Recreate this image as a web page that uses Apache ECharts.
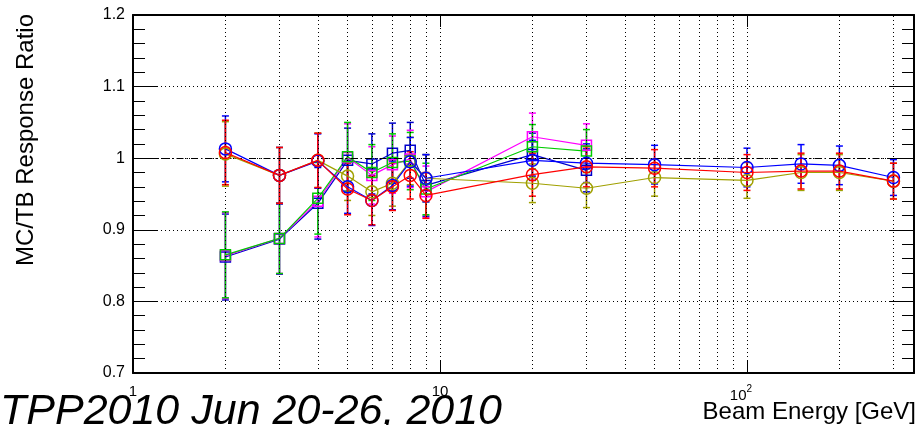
<!DOCTYPE html>
<html>
<head>
<meta charset="utf-8">
<script src="https://cdn.jsdelivr.net/npm/echarts@6/dist/echarts.min.js"></script>
<style>
html,body{margin:0;padding:0;background:#fff;}
#c{width:919px;height:425px;}
</style>
</head>
<body>
<div id="c"></div>
<script>
// ---- data ----
const energies = [2, 3, 4, 5, 6, 7, 8, 9, 20, 30, 50, 100, 150, 200, 300];
const squareEnergies = [2, 3, 4, 5, 6, 7, 8, 9, 20, 30];

const blueCircle    = [1.013, 0.976, 0.996, 0.960, 0.941, 0.962, 0.995, 0.972, 0.997, 0.993, 0.991, 0.987, 0.992, 0.990, 0.973];
const blueCircleErr = [0.046, 0.039, 0.038, 0.037, 0.035, 0.034, 0.034, 0.033, 0.028, 0.027, 0.027, 0.027, 0.027, 0.027, 0.025];
const redCircle     = [1.008, 0.976, 0.997, 0.957, 0.941, 0.960, 0.976, 0.948, 0.977, 0.988, 0.986, 0.980, 0.982, 0.982, 0.968];
const redCircleErr  = [0.045, 0.039, 0.038, 0.036, 0.034, 0.033, 0.033, 0.032, 0.030, 0.028, 0.026, 0.025, 0.025, 0.025, 0.025];
const oliveCircle   = [1.006, 0.976, 0.997, 0.975, 0.953, 0.965, 0.996, 0.972, 0.965, 0.958, 0.973, 0.969, 0.980, 0.980, 0.968];
const oliveCircleErr= [0.045, 0.039, 0.038, 0.034, 0.033, 0.032, 0.033, 0.033, 0.027, 0.027, 0.026, 0.025, 0.025, 0.025, 0.025];

const blueSquare     = [0.862, 0.887, 0.937, 0.997, 0.992, 1.007, 1.011, 0.962, 1.005, 0.983];
const blueSquareErr  = [0.060, 0.049, 0.050, 0.045, 0.042, 0.042, 0.039, 0.043, 0.030, 0.030];
const magentaSquare    = [0.864, 0.888, 0.940, 1.001, 0.976, 0.991, 0.999, 0.953, 1.030, 1.018];
const magentaSquareErr = [0.060, 0.049, 0.050, 0.047, 0.040, 0.040, 0.040, 0.036, 0.033, 0.030];
const greenSquare    = [0.865, 0.888, 0.944, 1.002, 0.980, 0.994, 0.996, 0.957, 1.016, 1.010];
const greenSquareErr = [0.060, 0.049, 0.050, 0.048, 0.039, 0.040, 0.040, 0.036, 0.031, 0.030];

const gridEnergies = [2, 3, 4, 5, 6, 7, 8, 9, 10, 20, 30, 40, 50, 60, 70, 80, 90, 100, 200, 300];
const xTickValues = [1, 10, 100];
const xTickLabels = ['1', '10', '{a|10}{s|2}{p| }'];
const referenceLine = 1;

const xTitle = 'Beam Energy [GeV]';
const yTitle = 'MC/TB Response Ratio';
const noteText = 'TPP2010 Jun 20-26, 2010';

// ---- chart ----
const FONT = '"Liberation Sans", Arial, Helvetica, sans-serif';
const chart = echarts.init(document.getElementById('c'), null, {renderer: 'canvas'});

function pairs(xs, ys) { return xs.map((x, i) => [x, ys[i]]); }
function errData(xs, ys, es) { return xs.map((x, i) => [x, ys[i] - es[i], ys[i] + es[i]]); }

function errSeries(xs, ys, es, color, z) {
  return {
    type: 'custom', z: z, silent: true, clip: true,
    data: errData(xs, ys, es),
    encode: {x: 0, y: [1, 2]},
    renderItem: function (params, api) {
      const x = api.value(0);
      const p1 = api.coord([x, api.value(1)]);
      const p2 = api.coord([x, api.value(2)]);
      const w = 3.5;
      const st = {stroke: color, lineWidth: 1.5};
      return {type: 'group', children: [
        {type: 'line', shape: {x1: p1[0], y1: p1[1], x2: p2[0], y2: p2[1]}, style: st},
        {type: 'line', shape: {x1: p1[0] - w, y1: p1[1], x2: p1[0] + w, y2: p1[1]}, style: st},
        {type: 'line', shape: {x1: p2[0] - w, y1: p2[1], x2: p2[0] + w, y2: p2[1]}, style: st}
      ]};
    }
  };
}
function lineSeries(name, xs, ys, color, symbol, size, z) {
  return {
    name: name, type: 'line', z: z,
    data: pairs(xs, ys),
    symbol: symbol, symbolSize: size, showAllSymbols: true, showSymbol: true,
    lineStyle: {color: color, width: 1.2},
    itemStyle: {color: 'rgba(0,0,0,0)', borderColor: color, borderWidth: 1.5},
    emphasis: {disabled: true}
  };
}

const dotted = {color: '#000', width: 1, type: [1, 3]};

const series = [
  {
    type: 'line', data: [], silent: true, z: 1,
    markLine: {
      silent: true, symbol: ['none', 'none'], label: {show: false}, animation: false,
      lineStyle: dotted,
      data: gridEnergies.map(e => ({xAxis: e}))
    }
  },
  {
    type: 'line', data: [], silent: true, z: 2,
    markLine: {
      silent: true, symbol: ['none', 'none'], label: {show: false}, animation: false,
      lineStyle: {color: '#000', width: 1, type: [7, 3, 1.5, 3]},
      data: [{yAxis: referenceLine}]
    }
  },
  errSeries(squareEnergies, blueSquare, blueSquareErr, '#0000cc', 3),
  errSeries(squareEnergies, magentaSquare, magentaSquareErr, '#ff00ff', 3),
  errSeries(squareEnergies, greenSquare, greenSquareErr, '#00cc00', 3),
  errSeries(energies, oliveCircle, oliveCircleErr, '#a0a000', 3),
  errSeries(energies, blueCircle, blueCircleErr, '#0000ff', 3),
  errSeries(energies, redCircle, redCircleErr, '#ff0000', 3),
  lineSeries('blueSq', squareEnergies, blueSquare, '#0000cc', 'rect', 10, 4),
  lineSeries('magentaSq', squareEnergies, magentaSquare, '#ff00ff', 'rect', 10, 4),
  lineSeries('greenSq', squareEnergies, greenSquare, '#00cc00', 'rect', 10, 4),
  lineSeries('olive', energies, oliveCircle, '#a0a000', 'circle', 12, 5),
  lineSeries('blue', energies, blueCircle, '#0000ff', 'circle', 12, 5),
  lineSeries('red', energies, redCircle, '#ff0000', 'circle', 12, 6)
];

const option = {
  animation: false,
  backgroundColor: '#fff',
  grid: {left: 133, right: 5, top: 15, bottom: 52, containLabel: false},
  xAxis: [
    {
      type: 'log', logBase: 10, min: 1, max: 350, position: 'bottom',
      axisLine: {show: true, lineStyle: {color: '#000', width: 2}},
      axisTick: {show: true, inside: true, length: 12, lineStyle: {color: '#000', width: 1}},
      splitLine: {show: false},
      axisLabel: {
        show: true, margin: 11, color: '#000', fontSize: 15, fontFamily: FONT,
        formatter: function (v) {
          const i = xTickValues.findIndex(t => Math.abs(t - v) < 1e-6 * t);
          return i < 0 ? '' : xTickLabels[i];
        },
        rich: {
          a: {fontSize: 15, fontFamily: FONT, color: '#000', padding: [4, 0, 0, 0]},
          s: {fontSize: 10, fontFamily: FONT, color: '#000', verticalAlign: 'top'},
          p: {width: 12}
        }
      }
    },
    {
      type: 'log', logBase: 10, min: 1, max: 350, position: 'top',
      axisLine: {show: true, lineStyle: {color: '#000', width: 2}},
      axisTick: {show: true, inside: true, length: 12, lineStyle: {color: '#000', width: 1}},
      splitLine: {show: false},
      axisLabel: {show: false}
    }
  ],
  yAxis: [
    {
      type: 'value', min: 0.7, max: 1.2, interval: 0.1, position: 'left',
      axisLine: {show: true, lineStyle: {color: '#000', width: 2}},
      axisTick: {show: true, inside: true, length: 24, lineStyle: {color: '#000', width: 1}},
      minorTick: {show: true, splitNumber: 5, length: 12, lineStyle: {color: '#000', width: 1}},
      splitLine: {show: true, lineStyle: dotted},
      axisLabel: {
        show: true, margin: 8, color: '#000', fontSize: 16, fontFamily: FONT,
        formatter: v => String(+v.toFixed(1))
      }
    },
    {
      type: 'value', min: 0.7, max: 1.2, interval: 0.1, position: 'right',
      axisLine: {show: true, lineStyle: {color: '#000', width: 2}},
      axisTick: {show: true, inside: true, length: 24, lineStyle: {color: '#000', width: 1}},
      minorTick: {show: true, splitNumber: 5, length: 12, lineStyle: {color: '#000', width: 1}},
      splitLine: {show: false},
      axisLabel: {show: false}
    }
  ],
  graphic: [
    {
      type: 'text', x: 916, y: 412.5, silent: true,
      style: {text: xTitle, font: '24px ' + FONT, fill: '#000', align: 'right', verticalAlign: 'middle'}
    },
    {
      type: 'text', x: 26.5, y: 14, rotation: Math.PI / 2, silent: true,
      style: {text: yTitle, font: '24px ' + FONT, fill: '#000', align: 'right', verticalAlign: 'middle'}
    },
    {
      type: 'text', x: 0, y: 412, silent: true, z: 100,
      style: {text: noteText, font: 'italic 43px ' + FONT, fill: '#000', align: 'left', verticalAlign: 'middle'}
    }
  ],
  series: series
};
chart.setOption(option);
</script>
</body>
</html>
